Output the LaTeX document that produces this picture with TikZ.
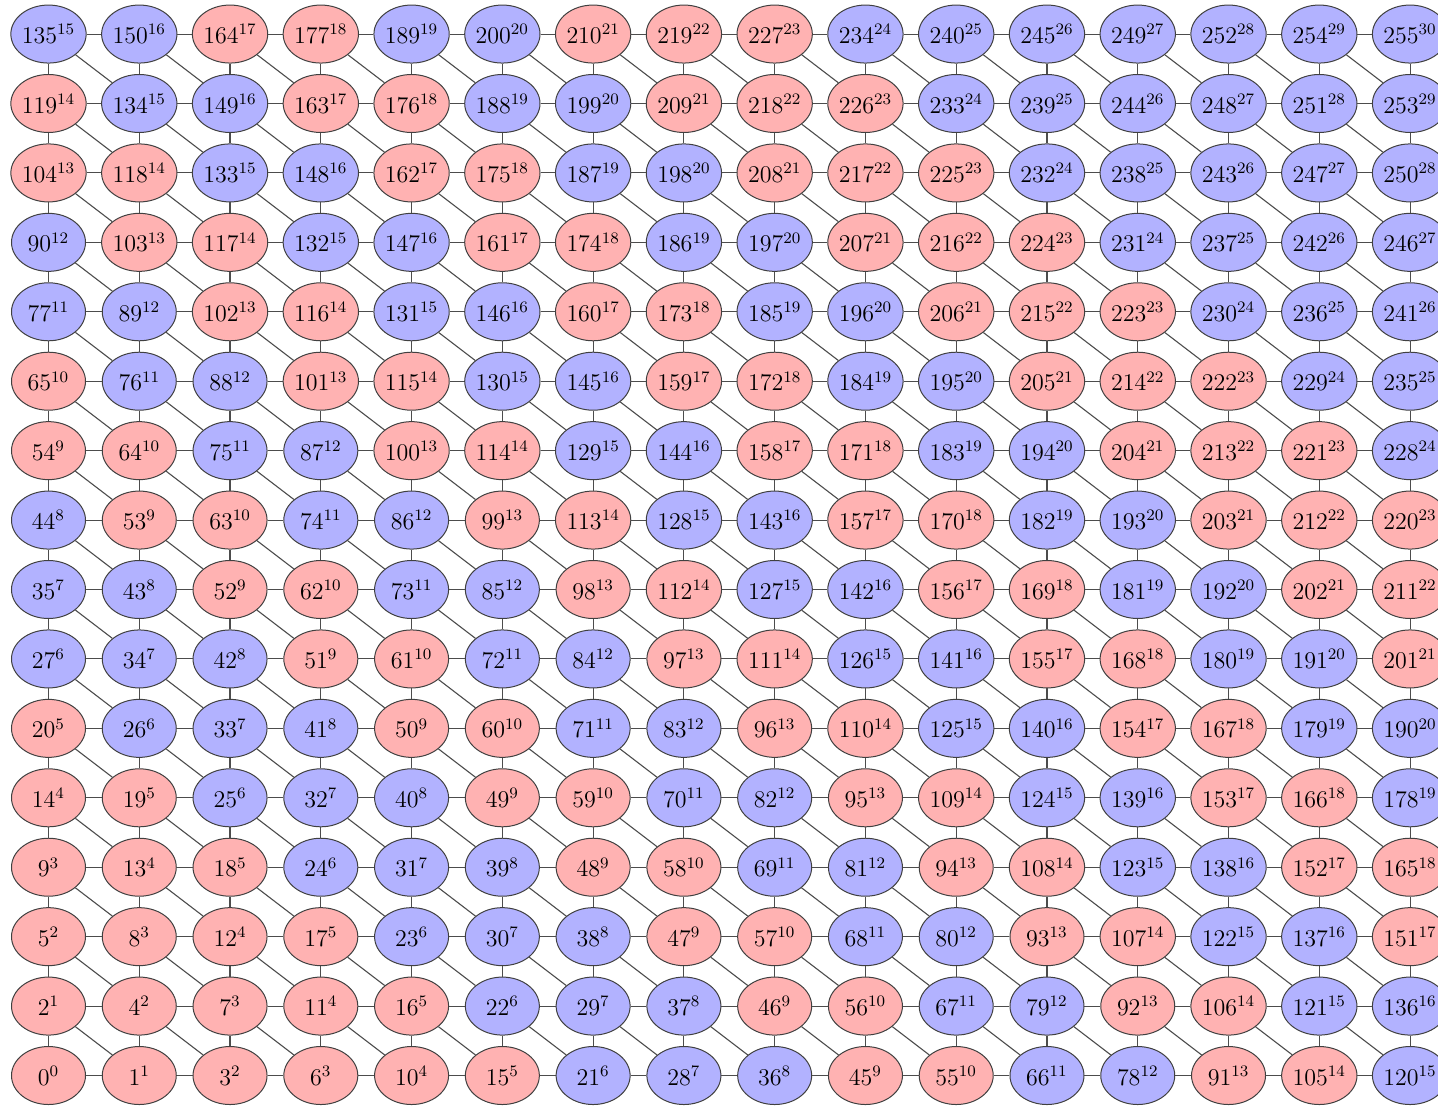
\documentclass[tikz,border=0pt]{standalone}
\usetikzlibrary{shapes.geometric}
\definecolor{redfill}{RGB}{255,178,178}
\definecolor{bluefill}{RGB}{178,178,255}
\tikzset{
  cell/.style={ellipse, draw=black!75, line width=0.5pt, minimum width=37pt,
    minimum height=29pt, inner sep=0pt, font=\fontsize{11.6}{14}\selectfont},
  link/.style={draw=black!70, line width=0.55pt}
}
\begin{document}
\begin{tikzpicture}[x=0.5pt,y=-0.5pt]
\clip (0,0) rectangle (1438,1105);
\foreach \i in {0,...,15}{
  \foreach \j in {0,...,15}{
    \pgfmathtruncatemacro\d{\i+\j}
    \pgfmathtruncatemacro\num{\d<=15 ? \d*(\d+1)/2+\j : 256-(31-\d)*(32-\d)/2+\j-(\d-15)}
    \pgfmathtruncatemacro\isred{(\d<=5) || (\d==9) || (\d==10) || (\d==13) || (\d==14) || (\d==17) || (\d==18) || ((\d>=21) && (\d<=23))}
    \ifnum\isred=1 \def\fillcol{redfill}\else\def\fillcol{bluefill}\fi
    \node[cell, fill=\fillcol] (n-\i-\j) at (48.5+90.77*\i, 1075.5-69.43*\j) {$\num^{\d}$};
  }
}
% horizontal
\foreach \i in {0,...,14}{
  \foreach \j in {0,...,15}{
    \pgfmathtruncatemacro\ii{\i+1}
    \draw[link] (n-\i-\j) -- (n-\ii-\j);
  }
}
% vertical
\foreach \i in {0,...,15}{
  \foreach \j in {0,...,14}{
    \pgfmathtruncatemacro\jj{\j+1}
    \draw[link] (n-\i-\j) -- (n-\i-\jj);
  }
}
% diagonal
\foreach \i in {0,...,14}{
  \foreach \j in {0,...,14}{
    \pgfmathtruncatemacro\ii{\i+1}
    \pgfmathtruncatemacro\jj{\j+1}
    \draw[link] (n-\i-\jj) -- (n-\ii-\j);
  }
}
\end{tikzpicture}
\end{document}
